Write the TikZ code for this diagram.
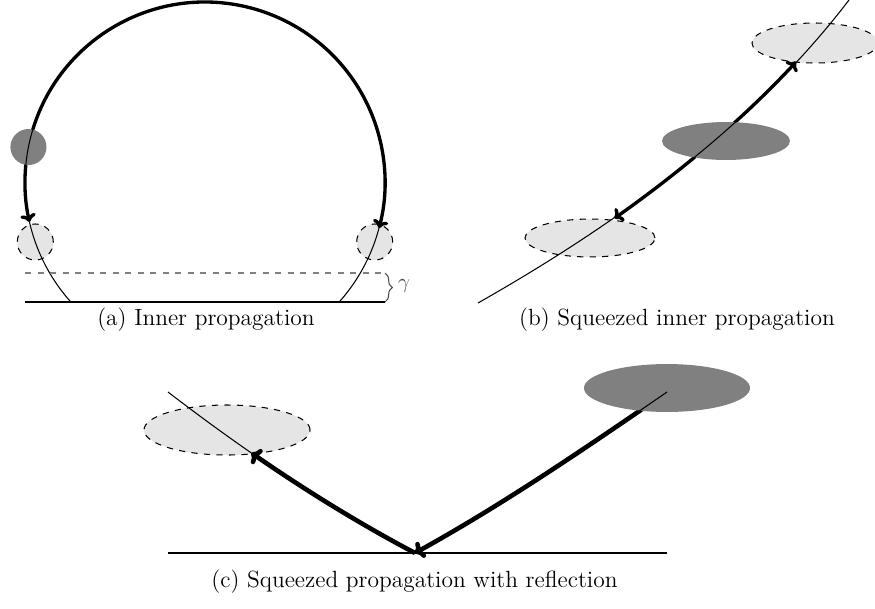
\documentclass[tikz,border=0pt]{standalone}
\usetikzlibrary{decorations.pathreplacing,arrows.meta,shapes.geometric,calc}
\begin{document}
\begin{tikzpicture}[x=0.48pt,y=-0.48pt,
  thinline/.style={line width=0.5pt},
  baseline/.style={line width=1pt},
  heavy/.style={line width=1.6pt,-{To[length=3.8pt,width=7.5pt]}},
  heavier/.style={line width=2.2pt,-{To[length=4.2pt,width=8.5pt]}},
  lightblob/.style={ellipse,draw,dashed,fill=gray!20,inner sep=0pt,line width=0.5pt},
  darkblob/.style={ellipse,fill=gray,inner sep=0pt},
  caption/.style={font=\fontsize{11.25}{13.5}\selectfont,inner sep=0pt}]
\useasboundingbox (0,0) rectangle (875,608);
% ---------- (a) ----------
\coordinate (Ca) at (205,182);
\node[lightblob,minimum width=17.3pt,minimum height=17.3pt] (La) at (35.3,242) {};
\node[lightblob,minimum width=17.3pt,minimum height=17.3pt] (Ra) at (374.7,242) {};
\draw[heavy] ($(Ca)+(191.2:180)$) arc[start angle=191.2,end angle=167.2,radius=180];
\draw[heavy] ($(Ca)+(191.2:180)$) arc[start angle=191.2,end angle=374.8,radius=180];
\node[darkblob,minimum width=17.3pt,minimum height=17.3pt] (Da) at ($(Ca)+(191.2:180)$) {};
\draw[thinline] ($(Ca)+(138.2:180)$) arc[start angle=138.2,end angle=401.8,radius=180];
\coordinate (a1) at (25,302); \coordinate (a2) at (385,302);
\coordinate (g1) at (25,273); \coordinate (g2) at (385,273);
\draw[baseline] (a1) -- (a2);
\draw[gray,dashed,line width=0.7pt] (g1) -- (g2);
\draw[black!70,line width=0.5pt,decorate,decoration={brace,amplitude=3.5pt}] (g2) -- (a2);
\node[black!70,inner sep=0pt] (gam) at (404,286) {$\gamma$};
\node[caption] (capa) at (206,320) {(a) Inner propagation};
% ---------- (b) ----------
\coordinate (b0) at (478,303);
\coordinate (b3) at (849,0);
\coordinate (b1) at (614.5,218.3);
\coordinate (b2) at (796,62);
\node[lightblob,minimum width=62.4pt,minimum height=18.2pt] (Lb) at (590,238) {};
\node[lightblob,minimum width=60.5pt,minimum height=19.2pt] (Ub) at (815,43) {};
\draw[line width=1.6pt,{To[length=3.8pt,width=7.5pt]}-{To[length=3.8pt,width=7.5pt]}] (b1) .. controls (680,172) and (742,120) .. (b2);
\node[darkblob,minimum width=61.4pt,minimum height=18.2pt] (Db) at (726,141) {};
\draw[thinline] (b0) .. controls (617,224) and (752,127) .. (b3);
\node[caption] (capb) at (677,320) {(b) Squeezed inner propagation};
% ---------- (c) ----------
\coordinate (c1) at (168,553); \coordinate (c2) at (667,553);
\coordinate (R) at (415,553);
\coordinate (Lend) at (168,392);
\coordinate (Lt) at (251.4,452.9);
\draw[baseline] (c1) -- (c2);
\node[lightblob,minimum width=79.7pt,minimum height=24pt] (Lc) at (227,430) {};
\coordinate (Ds) at (667,392);
\draw[heavier] (Ds) .. controls (580,452) and (500,506) .. (R);
\node[darkblob,minimum width=79.7pt,minimum height=23pt] (Dc) at (667,388) {};
\draw[thinline] (Ds) .. controls (580,452) and (500,506) .. (R);
\draw[thinline] (R) .. controls (328,507) and (246,452) .. (Lend);
\draw[heavier] (R) .. controls (358.4,523.1) and (304,489.3) .. (Lt);
\node[caption] (capc) at (414.5,582) {(c) Squeezed propagation with reflection};
\end{tikzpicture}
\end{document}
